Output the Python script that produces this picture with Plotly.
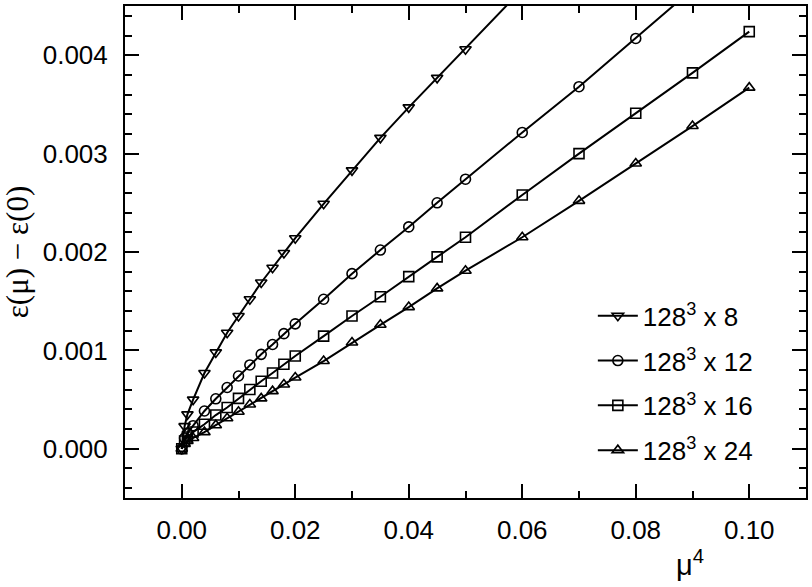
import plotly.graph_objects as go

# x values (mu^4)
x8 = [0.0, 0.0005, 0.001, 0.002, 0.004, 0.006, 0.008, 0.010, 0.012, 0.014, 0.016, 0.018, 0.020,
      0.025, 0.030, 0.035, 0.040, 0.045, 0.050, 0.060]
y8 = [0.0, 0.00023, 0.00035, 0.00050, 0.00077, 0.00098, 0.00118, 0.00135, 0.00152, 0.00169, 0.00184,
      0.00199, 0.00214, 0.00249, 0.00283, 0.00316, 0.00347, 0.00377, 0.00406, 0.00467]

x12 = [0.0, 0.0005, 0.001, 0.002, 0.004, 0.006, 0.008, 0.010, 0.012, 0.014, 0.016, 0.018, 0.020,
       0.025, 0.030, 0.035, 0.040, 0.045, 0.050, 0.060, 0.070, 0.080, 0.090]
y12 = [0.0, 0.00011, 0.00016, 0.000235, 0.000384, 0.000508, 0.000623, 0.00074, 0.000852, 0.00096,
       0.00106, 0.00117, 0.00127, 0.00152, 0.00178, 0.00202, 0.002255, 0.0025, 0.00274, 0.003215,
       0.00368, 0.00417, 0.00467]

x16 = [0.0, 0.0005, 0.001, 0.002, 0.004, 0.006, 0.008, 0.010, 0.012, 0.014, 0.016, 0.018, 0.020,
       0.025, 0.030, 0.035, 0.040, 0.045, 0.050, 0.060, 0.070, 0.080, 0.090, 0.100]
y16 = [0.0, 0.00008, 0.00012, 0.00017, 0.00025, 0.000343, 0.00042, 0.000512, 0.000603, 0.000687,
       0.00077, 0.000859, 0.000943, 0.001145, 0.00135, 0.001545, 0.00175, 0.00195, 0.00215, 0.00258,
       0.0030, 0.00341, 0.00382, 0.00424]

x24 = [0.0, 0.0005, 0.001, 0.002, 0.004, 0.006, 0.008, 0.010, 0.012, 0.014, 0.016, 0.018, 0.020,
       0.025, 0.030, 0.035, 0.040, 0.045, 0.050, 0.060, 0.070, 0.080, 0.090, 0.100]
y24 = [0.0, 0.00005, 0.00008, 0.00011, 0.000169, 0.00024, 0.00031, 0.000377, 0.00045, 0.000512,
       0.000586, 0.000653, 0.000724, 0.000892, 0.00108, 0.00126, 0.00144, 0.00163, 0.00181, 0.00215,
       0.00252, 0.0029, 0.00328, 0.00367]

names = ["128<sup>3</sup> x 8", "128<sup>3</sup> x 12", "128<sup>3</sup> x 16", "128<sup>3</sup> x 24"]
symbols = ["triangle-down-open", "circle-open", "square-open", "triangle-up-open"]
xs = [x8, x12, x16, x24]
ys = [y8, y12, y16, y24]

FONT = "Liberation Sans"
SERIF = "Liberation Serif"

fig = go.Figure()
for i in range(4):
    fig.add_trace(go.Scatter(
        x=xs[i], y=ys[i], mode="lines+markers", name=names[i],
        legendgroup=str(i),
        line=dict(color="black", width=2),
        marker=dict(symbol=symbols[i], size=10, color="black", line=dict(width=1.6, color="black")),
    ))

axis_common = dict(
    showgrid=False, zeroline=False, showline=True, linecolor="black", linewidth=2,
    mirror="allticks", ticks="inside", ticklen=14, tickwidth=2, tickcolor="black",
    tickfont=dict(family=FONT, size=26, color="black"),
)

fig.update_xaxes(
    range=[-0.01, 0.11], dtick=0.02, tick0=0, tickformat=".2f",
    minor=dict(dtick=0.01, ticks="inside", ticklen=7, tickwidth=2, tickcolor="black"),
    ticklabelstandoff=8,
    **axis_common,
)
fig.update_yaxes(
    range=[-0.0005, 0.0045], dtick=0.001, tick0=0, tickformat=".3f",
    minor=dict(dtick=0.0002, ticks="inside", ticklen=7, tickwidth=2, tickcolor="black"),
    ticklabelstandoff=10,
    title=dict(text="ε(μ) − ε(0)", font=dict(family=SERIF, size=31, color="black"),
               standoff=12),
    **axis_common,
)

fig.add_annotation(
    text="μ<sup>4</sup>", xref="paper", yref="paper", x=0.83, y=-0.092,
    xanchor="center", yanchor="top", showarrow=False,
    font=dict(family=FONT, size=29, color="black"),
)

fig.update_layout(
    width=812, height=587,
    margin=dict(l=125, r=4, t=4, b=89),
    plot_bgcolor="white", paper_bgcolor="white",
    showlegend=True,
    legend=dict(x=0.687, y=0.418, xanchor="left", yanchor="top",
                font=dict(family=FONT, size=26, color="black"),
                bgcolor="rgba(0,0,0,0)", traceorder="grouped", tracegroupgap=8,
                itemwidth=40),
)

fig.write_html("out.html", config={"displayModeBar": False},
               post_script="document.body.style.margin='0';document.body.style.padding='0';")
